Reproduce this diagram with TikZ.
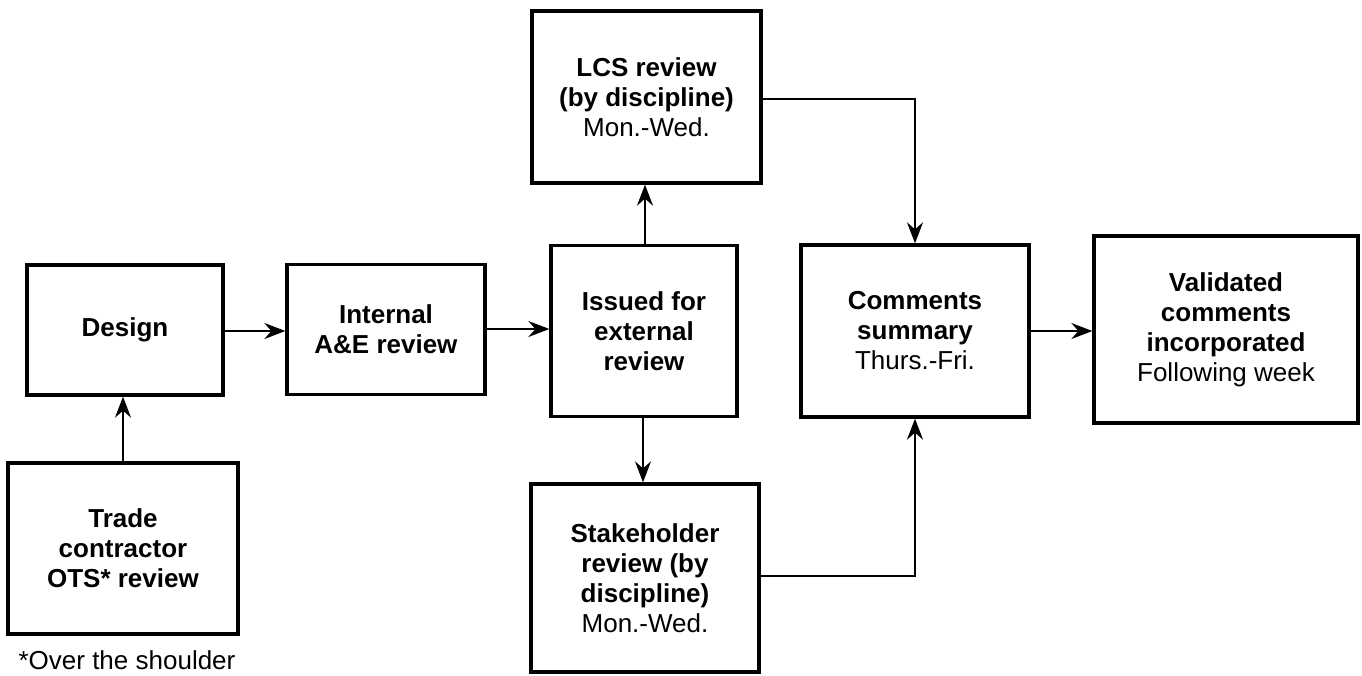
\documentclass[tikz,border=0pt]{standalone}
\usepackage{fontspec}
\setmainfont{Liberation Sans}
\usetikzlibrary{arrows.meta}
\begin{document}
\begin{tikzpicture}[x=1pt,y=-1pt,
  box/.style={draw=black, line width=3.3pt, fill=white, inner sep=0pt, align=center,
    font=\fontsize{26}{30}\selectfont},
  conn/.style={line width=2pt, -{Stealth[length=21pt,width=16pt,inset=7pt]}},
  plain/.style={line width=2pt}]
\useasboundingbox (0,0) rectangle (1362,675);
\node[box, minimum width=196pt, minimum height=130pt] (design) at (125,330) {\textbf{Design}};
\node[box, minimum width=230pt, minimum height=171pt] (trade) at (123,548.5) {\textbf{Trade}\\\textbf{contractor}\\\textbf{OTS* review}};
\node[box, minimum width=198pt, minimum height=130pt] (internal) at (386,329.5) {\textbf{Internal}\\\textbf{A\&E review}};
\node[box, minimum width=186pt, minimum height=171pt] (issued) at (644,331) {\textbf{Issued for}\\\textbf{external}\\\textbf{review}};
\node[box, minimum width=229pt, minimum height=172pt] (lcs) at (646.5,97) {\textbf{LCS review}\\\textbf{(by discipline)}\\Mon.-Wed.};
\node[box, minimum width=228pt, minimum height=188pt] (stake) at (645,578) {\textbf{Stakeholder}\\\textbf{review (by}\\\textbf{discipline)}\\Mon.-Wed.};
\node[box, minimum width=228pt, minimum height=172pt] (comments) at (915,331) {\textbf{Comments}\\\textbf{summary}\\Thurs.-Fri.};
\node[box, minimum width=264pt, minimum height=187pt] (valid) at (1226,329.5) {\textbf{Validated}\\\textbf{comments}\\\textbf{incorporated}\\Following week};
\node[font=\fontsize{26}{30}\selectfont, inner sep=0pt] (note) at (127,660) {*Over the shoulder};
\draw[conn] (design.east |- 0,331) -- (internal.west |- 0,331);
\draw[conn] (trade.north) -- (trade.north |- design.south);
\draw[conn] (internal.east |- 0,329) -- (issued.west |- 0,329);
\draw[conn] (issued.north -| 645,0) -- (lcs.south -| 645,0);
\draw[conn] (issued.south -| 643,0) -- (stake.north -| 643,0);
\draw[conn] (lcs.east |- 0,99) -| (comments.north);
\draw[conn] (stake.east |- 0,576) -| (comments.south);
\draw[conn] (comments.east) -- (comments.east -| valid.west);
\end{tikzpicture}
\end{document}
